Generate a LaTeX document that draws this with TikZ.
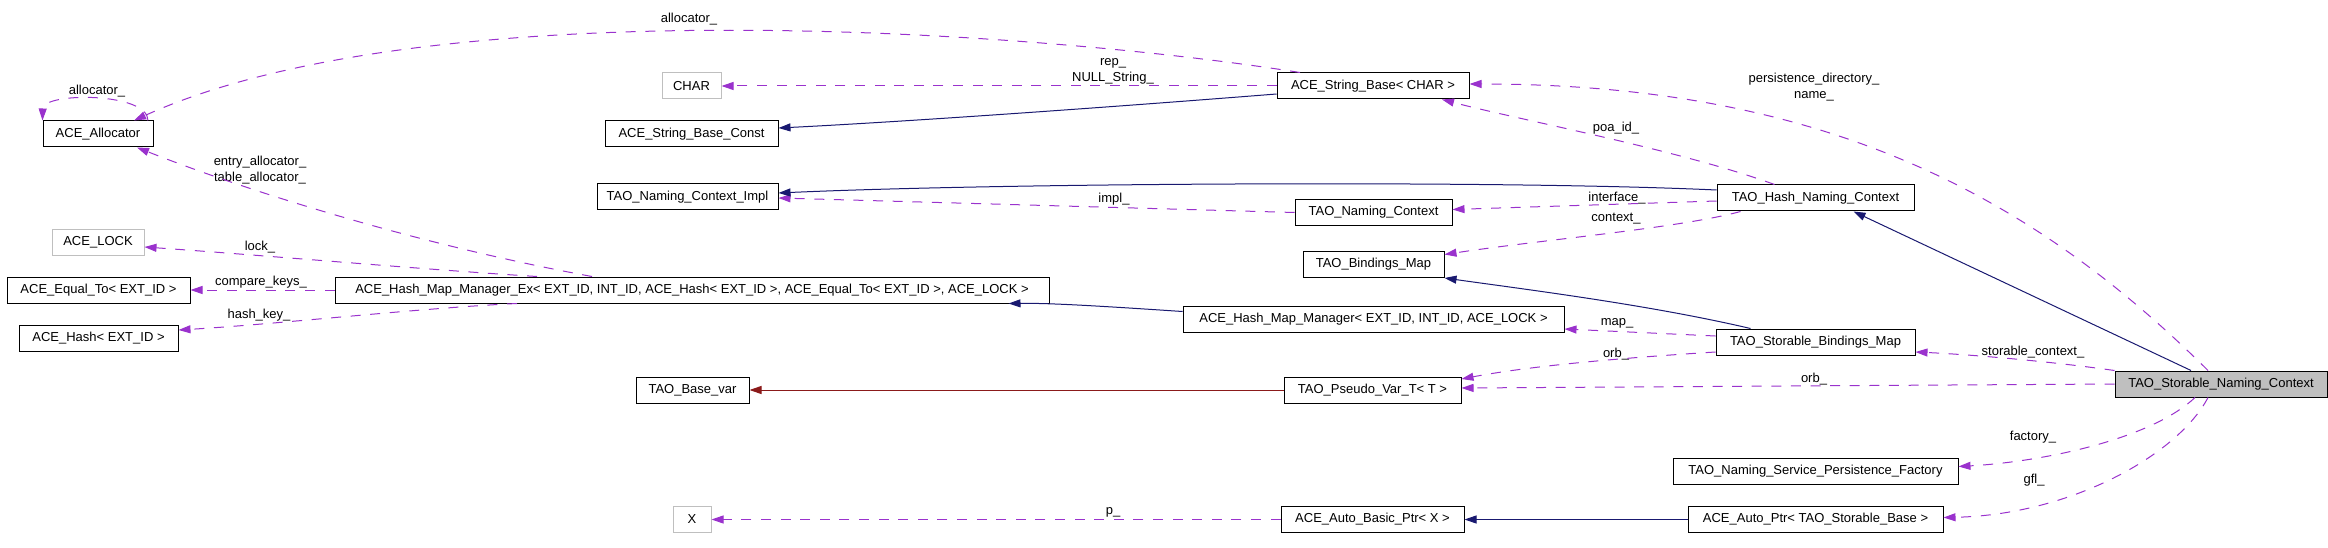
\documentclass[tikz,border=0pt]{standalone}
\usepackage{fontspec}
\setmainfont{Liberation Sans}
\usetikzlibrary{arrows.meta}
\definecolor{usecol}{HTML}{9A32CD}
\definecolor{inhcol}{HTML}{191970}
\definecolor{redcol}{HTML}{8B1A1A}
\definecolor{grey75}{HTML}{BFBFBF}
\begin{document}
\begin{tikzpicture}[x=1pt,y=-1pt,
  font=\fontsize{13}{16}\selectfont,
  cls/.style={draw=black,line width=1pt,minimum height=26pt,inner sep=0pt,anchor=center},
  gcls/.style={cls,draw=grey75},
  maincls/.style={cls,fill=grey75},
  usage/.style={draw=usecol,line width=1pt,dash pattern=on 10pt off 9.6pt,-{Triangle[length=12pt,width=8pt]}},
  inh/.style={draw=inhcol,line width=1pt,-{Triangle[length=12pt,width=8pt]}},
  inhred/.style={draw=redcol,line width=1pt,-{Triangle[length=12pt,width=8pt]}},
  lbl/.style={inner sep=0pt,align=center}]
\useasboundingbox (0,0) rectangle (2328,548);
% nodes
\node[cls,minimum width=110pt] (alloc) at (98,134) {ACE\_Allocator};
\node[gcls,minimum width=59pt] (char) at (691.5,86) {CHAR};
\node[cls,minimum width=173pt] (sbconst) at (691.5,134) {ACE\_String\_Base\_Const};
\node[cls,minimum width=192pt] (sbase) at (1373,86) {ACE\_String\_Base< CHAR >};
\node[cls,minimum width=181pt] (ncimpl) at (687.5,197) {TAO\_Naming\_Context\_Impl};
\node[cls,minimum width=157pt] (nc) at (1373.5,212.5) {TAO\_Naming\_Context};
\node[cls,minimum width=197pt] (hnc) at (1815.5,198) {TAO\_Hash\_Naming\_Context};
\node[cls,minimum width=141pt] (bmap) at (1373.5,264.5) {TAO\_Bindings\_Map};
\node[gcls,minimum width=92pt] (lock) at (98,242) {ACE\_LOCK};
\node[cls,minimum width=183pt] (eq) at (98.5,290) {ACE\_Equal\_To< EXT\_ID >};
\node[cls,minimum width=159pt] (hash) at (98.5,338) {ACE\_Hash< EXT\_ID >};
\node[cls,minimum width=714pt] (hmex) at (692,290) {ACE\_Hash\_Map\_Manager\_Ex< EXT\_ID, INT\_ID, ACE\_Hash< EXT\_ID >, ACE\_Equal\_To< EXT\_ID >, ACE\_LOCK >};
\node[cls,minimum width=381pt] (hmm) at (1373.5,319.5) {ACE\_Hash\_Map\_Manager< EXT\_ID, INT\_ID, ACE\_LOCK >};
\node[cls,minimum width=199pt] (sbm) at (1815.5,342) {TAO\_Storable\_Bindings\_Map};
\node[cls,minimum width=113pt] (basevar) at (692.5,390) {TAO\_Base\_var};
\node[cls,minimum width=177pt] (pvar) at (1372.5,390) {TAO\_Pseudo\_Var\_T< T >};
\node[maincls,minimum width=212pt] (snc) at (2221,384) {TAO\_Storable\_Naming\_Context};
\node[cls,minimum width=285pt] (factory) at (1815.5,471.5) {TAO\_Naming\_Service\_Persistence\_Factory};
\node[cls,minimum width=255pt] (autoptr) at (1815.5,519.5) {ACE\_Auto\_Ptr< TAO\_Storable\_Base >};
\node[cls,minimum width=183pt] (basicptr) at (1372.5,519.5) {ACE\_Auto\_Basic\_Ptr< X >};
\node[gcls,minimum width=38pt] (x) at (692,519.5) {X};
% labels
\node[lbl] (l1) at (689,19) {allocator\_};
\node[lbl] (l2) at (97,91) {allocator\_};
\node[lbl] (l3) at (260,170) {entry\_allocator\_\\table\_allocator\_};
\node[lbl] (l4) at (260,247) {lock\_};
\node[lbl] (l5) at (261,282) {compare\_keys\_};
\node[lbl] (l6) at (259,315) {hash\_key\_};
\node[lbl] (l7) at (1113,71) {rep\_\\NULL\_String\_};
\node[lbl] (l8) at (1114,199) {impl\_};
\node[lbl] (l9) at (1617,198) {interface\_};
\node[lbl] (l10) at (1616,219) {context\_};
\node[lbl] (l11) at (1616,128) {poa\_id\_};
\node[lbl] (l12) at (1814,87) {persistence\_directory\_\\name\_};
\node[lbl] (l13) at (2033,352) {storable\_context\_};
\node[lbl] (l14) at (1617,323) {map\_};
\node[lbl] (l15) at (1616,354) {orb\_};
\node[lbl] (l16) at (1814,379) {orb\_};
\node[lbl] (l17) at (2033,437) {factory\_};
\node[lbl] (l18) at (2034,480) {gfl\_};
\node[lbl] (l19) at (1113,512) {p\_};
% usage edges
\draw[usage] ([xshift=-73pt]sbase.north) .. controls (1017,28) and (421,-10) .. ([xshift=36pt]alloc.north);
\draw[usage] ([xshift=50pt]alloc.north) .. controls (148,92) and (43,92) .. (alloc.north west);
\draw[usage] ([xshift=-100pt]hmex.north) .. controls (420,245) and (250,192) .. ([xshift=39pt]alloc.south);
\draw[usage] ([xshift=-155pt]hmex.north) .. controls (430,270) and (260,255) .. ([yshift=-5pt]lock.east);
\draw[usage] (hmex.west) -- (eq.east);
\draw[usage] ([xshift=-175pt]hmex.south) .. controls (420,308) and (280,324) .. ([yshift=8pt]hash.east);
\draw[usage] (sbase.west) -- (char.east);
\draw[usage] (nc.west) -- ([yshift=-1pt]ncimpl.east);
\draw[usage] ([yshift=-3pt]hnc.west) -- ([yshift=3pt]nc.east);
\draw[usage] ([xshift=-75pt]hnc.south) .. controls (1680,228) and (1540,240) .. ([yshift=10pt]bmap.east);
\draw[usage] ([xshift=-41pt]hnc.north) .. controls (1680,150) and (1520,120) .. ([xshift=69pt]sbase.south);
\draw[usage] ([xshift=-13pt]snc.north) .. controls (2028,192) and (1819,84) .. ([yshift=2pt]sbase.east);
\draw[usage] (snc.north west) .. controls (2040,360) and (1960,354) .. ([yshift=-10pt]sbm.east);
\draw[usage] ([yshift=6pt]sbm.west) -- ([yshift=-9.5pt]hmm.east);
\draw[usage] ([yshift=-10pt]sbm.west) .. controls (1620,358) and (1530,366) .. ([yshift=11pt]pvar.east);
\draw[usage] (snc.west) -- ([yshift=2pt]pvar.east);
\draw[usage] ([xshift=-26pt]snc.south) .. controls (2150,440) and (2040,462) .. ([yshift=5pt]factory.east);
\draw[usage] ([xshift=-13pt]snc.south) .. controls (2178,455) and (2070,515) .. ([yshift=2pt]autoptr.east);
\draw[usage] (basicptr.west) -- (x.east);
% inheritance edges
\draw[inh] ([yshift=-8pt]sbase.west) .. controls (1100,108) and (900,122) .. ([yshift=6pt]sbconst.east);
\draw[inh] ([yshift=8pt]hnc.west) .. controls (1500,180) and (1000,183) .. ([yshift=4pt]ncimpl.east);
\draw[inh] ([xshift=-30pt]snc.north) -- ([xshift=38pt]hnc.south);
\draw[inh] ([xshift=-65pt]sbm.north) .. controls (1650,305) and (1530,290) .. (bmap.south east);
\draw[inh] ([yshift=8pt]hmm.west) .. controls (1100,306) and (1050,303) .. ([xshift=-41pt]hmex.south east);
\draw[inh] (autoptr.west) -- (basicptr.east);
\draw[inhred] (pvar.west) -- (basevar.east);
\end{tikzpicture}
\end{document}
